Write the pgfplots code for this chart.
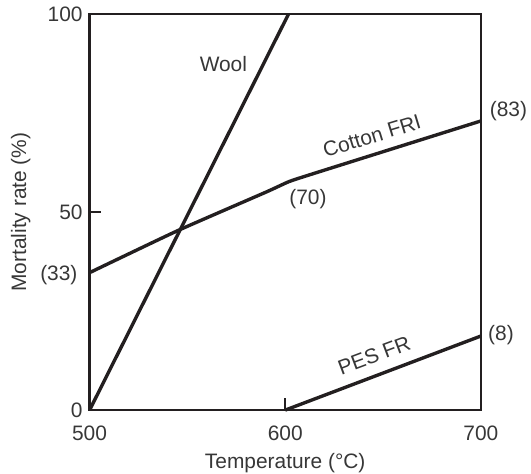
\documentclass[border=0pt]{standalone}
\usepackage{pgfplots}
\pgfplotsset{compat=1.18}
\usepackage{fontspec}
\setmainfont{Liberation Sans}
\definecolor{ink}{RGB}{35,31,32}
\definecolor{txt}{RGB}{55,55,55}
\tikzset{
  curva/.style={ink, line width=1.7pt, line join=round},
  nota/.style={font=\fontsize{10.5}{12}\selectfont, text=txt, inner sep=2pt},
}

\begin{document}
\begin{tikzpicture}
\begin{axis}[
  scale only axis, width=196.6pt, height=199pt,
  xmin=500, xmax=700, ymin=0, ymax=100,
  xtick={500,600,700}, ytick={0,50,100},
  tick pos=left, tick align=inside, major tick length=6pt,
  axis line style={ink, line width=1.3pt},
  every tick/.style={ink, line width=0.9pt},
  tick label style={font=\fontsize{10.5}{12}\selectfont, text=txt},
  /pgf/number format/assume math mode=true,
  xticklabel style={yshift=-4.5pt},
  xlabel={Temperature (°C)}, ylabel={Mortality rate (\%)},
  label style={font=\fontsize{10.5}{12}\selectfont, text=txt},
  xlabel style={at={(axis description cs:0.5,-0.133)}, anchor=center, inner sep=0.5pt},
  ylabel style={at={(axis description cs:-0.176,0.5)}, anchor=center, inner sep=5.5pt},
  clip=false,
]
% Wool
\addplot[curva] coordinates {(500,0) (601.7,100)};
% Cotton FRI
\addplot[curva, smooth, tension=0.3] coordinates {(500,34.7) (545,45.3) (590,55.0) (602,57.7) (615,59.8) (700,73.0)};
% PES FR
\addplot[curva] coordinates {(600,0) (700,18.7)};

\node[nota] at (axis cs:568.4,87.3) {Wool};
\node[nota, rotate=17] at (axis cs:644.3,69.2) {Cotton FRI};
\node[nota] at (axis cs:611.6,53.4) {(70)};
\node[nota] at (axis cs:714.1,75.6) {(83)};
\node[nota] at (axis cs:710.3,18.9) {(8)};
\node[nota, rotate=20.6] at (axis cs:645.5,13.8) {PES FR};
\node[nota] at (axis cs:484.3,34.2) {(33)};
\end{axis}
\end{tikzpicture}
\end{document}
